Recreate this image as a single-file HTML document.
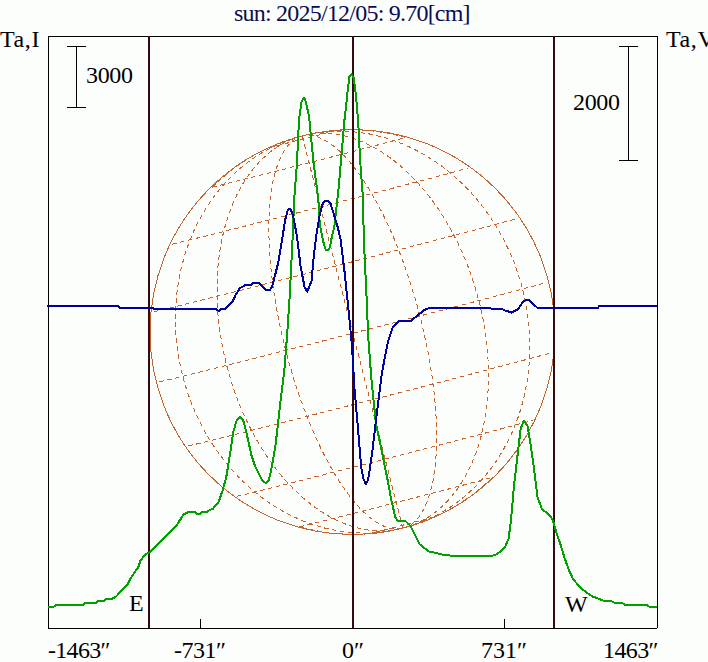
<!DOCTYPE html>
<html><head><meta charset="utf-8"><style>
html,body{margin:0;padding:0;background:#fcfefc;width:708px;height:662px;overflow:hidden}
svg{position:absolute;left:0;top:0}
.t{position:absolute;-webkit-font-smoothing:antialiased;font-family:"Liberation Serif", serif;font-size:24px;line-height:1;white-space:pre;color:#000}
</style></head><body>
<svg width="708" height="662" viewBox="0 0 708 662">
<path d="M368.6,533.8 L368.7,533.8 L368.8,533.8 L368.9,533.7 L369.1,533.7 L369.2,533.7 L369.4,533.6 L369.5,533.6 L369.7,533.5 L369.9,533.5 L370.1,533.4 L370.3,533.4 L370.5,533.3 L370.8,533.3 L371.0,533.2 L371.2,533.2 L371.5,533.1 L371.8,533.0 L372.0,533.0 L372.3,532.9 L372.6,532.8 L372.9,532.8 L373.2,532.7 L373.6,532.6 L373.9,532.5 L374.2,532.4 L374.6,532.4 L374.9,532.3 L375.3,532.2 L375.7,532.1 L376.0,532.0 L376.4,531.9 L376.8,531.8 L377.2,531.7 L377.6,531.6 L378.1,531.5 L378.5,531.4 L378.9,531.3 L379.3,531.2 L379.8,531.1 L380.2,530.9 L380.7,530.8 L381.2,530.7 L381.6,530.6 L382.1,530.5 L382.6,530.4 L383.1,530.2 L383.6,530.1 L384.1,530.0 L384.6,529.8 L385.1,529.7 L385.6,529.6 L386.2,529.5 L386.7,529.3 L387.2,529.2 L387.8,529.0 L388.3,528.9 L388.8,528.8 L389.4,528.6 L389.9,528.5 L390.5,528.4 L391.1,528.2 L391.6,528.1 L392.2,527.9 L392.8,527.8 L393.3,527.6 L393.9,527.5 L394.5,527.3 L395.1,527.2 L395.7,527.0 L396.2,526.9 L396.8,526.7 L397.4,526.6 L398.0,526.4 L398.6,526.3 L399.2,526.1 L399.8,526.0 L400.4,525.8 L401.0,525.7 L401.6,525.5 L402.2,525.4 L402.7,525.2 L403.3,525.1 L403.9,524.9 L404.5,524.8 L405.1,524.6 L405.7,524.5 L406.3,524.3 L406.9,524.2 L407.5,524.0 L408.1,523.9 L408.6,523.7 L409.2,523.6 L409.8,523.4 L410.4,523.3 L411.0,523.1 L411.5,523.0 L412.1,522.8 L412.7,522.7 L413.2,522.5 L413.8,522.4 L414.4,522.2 L414.9,522.1 L415.5,521.9 L416.0,521.8 L416.5,521.7 L417.1,521.5 L417.6,521.4 L418.1,521.2 L418.7,521.1 L419.2,521.0 L419.7,520.8 L420.2,520.7 L420.7,520.6 L421.2,520.4 L421.7,520.3 L422.2,520.2 L422.6,520.1 L423.1,519.9 L423.6,519.8 L424.0,519.7 L424.5,519.6 L424.9,519.5 L425.4,519.4 L425.8,519.2 L426.2,519.1 L426.6,519.0 L427.0,518.9 L427.4,518.8 L427.8,518.7 L428.2,518.6 L428.6,518.5 L429.0,518.4 L429.3,518.3 L429.7,518.2 L430.0,518.1 L430.4,518.0 L430.7,517.9 L431.0,517.9 L431.3,517.8 L431.6,517.7 L431.9,517.6 L432.2,517.5 L432.5,517.5 L432.7,517.4 L433.0,517.3 L433.2,517.3 L433.5,517.2 L433.7,517.1 L433.9,517.1 L434.1,517.0 L434.3,517.0 L434.5,516.9 L434.7,516.9 L434.8,516.8 L435.0,516.8 L435.2,516.7 L435.3,516.7 L435.4,516.6 L435.5,516.6 L435.6,516.6 M299.6,526.8 L299.9,526.7 L300.2,526.6 L300.6,526.5 L301.0,526.4 L301.4,526.3 L301.9,526.2 L302.4,526.1 L302.9,526.0 L303.4,525.9 L304.0,525.7 L304.6,525.6 L305.2,525.4 L305.9,525.3 L306.6,525.1 L307.3,524.9 L308.0,524.8 L308.8,524.6 L309.6,524.4 L310.4,524.2 L311.3,524.0 L312.1,523.8 L313.0,523.5 L314.0,523.3 L314.9,523.1 L315.9,522.8 L316.9,522.6 L317.9,522.3 L318.9,522.1 L320.0,521.8 L321.1,521.6 L322.2,521.3 L323.3,521.0 L324.5,520.7 L325.7,520.4 L326.9,520.1 L328.1,519.8 L329.3,519.5 L330.6,519.2 L331.9,518.9 L333.2,518.5 L334.5,518.2 L335.9,517.9 L337.2,517.5 L338.6,517.2 L340.0,516.8 L341.4,516.5 L342.8,516.1 L344.3,515.7 L345.7,515.4 L347.2,515.0 L348.7,514.6 L350.2,514.2 L351.7,513.9 L353.3,513.5 L354.8,513.1 L356.4,512.7 L357.9,512.3 L359.5,511.9 L361.1,511.5 L362.7,511.1 L364.3,510.7 L366.0,510.2 L367.6,509.8 L369.2,509.4 L370.9,509.0 L372.5,508.6 L374.2,508.1 L375.9,507.7 L377.6,507.3 L379.2,506.9 L380.9,506.4 L382.6,506.0 L384.3,505.6 L386.0,505.1 L387.7,504.7 L389.4,504.2 L391.1,503.8 L392.9,503.4 L394.6,502.9 L396.3,502.5 L398.0,502.1 L399.7,501.6 L401.4,501.2 L403.1,500.7 L404.8,500.3 L406.5,499.9 L408.2,499.4 L409.9,499.0 L411.6,498.5 L413.3,498.1 L415.0,497.7 L416.7,497.2 L418.3,496.8 L420.0,496.4 L421.7,496.0 L423.3,495.5 L424.9,495.1 L426.6,494.7 L428.2,494.3 L429.8,493.8 L431.4,493.4 L433.0,493.0 L434.6,492.6 L436.1,492.2 L437.7,491.8 L439.2,491.4 L440.8,491.0 L442.3,490.6 L443.8,490.2 L445.3,489.8 L446.8,489.4 L448.2,489.1 L449.7,488.7 L451.1,488.3 L452.5,487.9 L453.9,487.6 L455.3,487.2 L456.6,486.9 L458.0,486.5 L459.3,486.2 L460.6,485.8 L461.9,485.5 L463.1,485.1 L464.4,484.8 L465.6,484.5 L466.8,484.2 L467.9,483.9 L469.1,483.6 L470.2,483.3 L471.3,483.0 L472.4,482.7 L473.5,482.4 L474.5,482.1 L475.5,481.9 L476.5,481.6 L477.5,481.3 L478.4,481.1 L479.4,480.8 L480.3,480.6 L481.1,480.4 L482.0,480.1 L482.8,479.9 L483.6,479.7 L484.3,479.5 L485.1,479.3 L485.8,479.1 L486.4,478.9 L487.1,478.7 L487.7,478.6 L488.3,478.4 L488.9,478.3 L489.4,478.1 L489.9,478.0 L490.4,477.8 L490.9,477.7 L491.3,477.6 L491.7,477.5 L492.1,477.4 L492.4,477.3 L492.7,477.2 M236.9,496.2 L237.4,496.1 L238.0,496.0 L238.5,495.9 L239.1,495.7 L239.8,495.6 L240.5,495.4 L241.3,495.2 L242.1,495.1 L242.9,494.9 L243.8,494.7 L244.7,494.4 L245.7,494.2 L246.7,494.0 L247.7,493.7 L248.8,493.4 L249.9,493.2 L251.1,492.9 L252.3,492.6 L253.6,492.3 L254.9,492.0 L256.2,491.6 L257.6,491.3 L259.0,491.0 L260.4,490.6 L261.9,490.2 L263.5,489.9 L265.0,489.5 L266.6,489.1 L268.3,488.7 L269.9,488.2 L271.6,487.8 L273.4,487.4 L275.2,486.9 L277.0,486.5 L278.8,486.0 L280.7,485.6 L282.6,485.1 L284.5,484.6 L286.5,484.1 L288.5,483.6 L290.5,483.1 L292.6,482.6 L294.6,482.1 L296.8,481.5 L298.9,481.0 L301.1,480.4 L303.2,479.9 L305.5,479.3 L307.7,478.8 L310.0,478.2 L312.2,477.6 L314.6,477.0 L316.9,476.5 L319.2,475.9 L321.6,475.3 L324.0,474.6 L326.4,474.0 L328.8,473.4 L331.3,472.8 L333.7,472.2 L336.2,471.5 L338.7,470.9 L341.2,470.3 L343.7,469.6 L346.2,469.0 L348.8,468.3 L351.3,467.7 L353.9,467.0 L356.4,466.4 L359.0,465.7 L361.6,465.1 L364.2,464.4 L366.8,463.7 L369.4,463.1 L372.0,462.4 L374.6,461.7 L377.3,461.1 L379.9,460.4 L382.5,459.7 L385.1,459.0 L387.7,458.4 L390.4,457.7 L393.0,457.0 L395.6,456.3 L398.2,455.7 L400.8,455.0 L403.4,454.3 L406.0,453.7 L408.6,453.0 L411.2,452.3 L413.8,451.7 L416.4,451.0 L418.9,450.3 L421.5,449.7 L424.0,449.0 L426.5,448.4 L429.0,447.7 L431.5,447.1 L434.0,446.4 L436.5,445.8 L438.9,445.2 L441.4,444.5 L443.8,443.9 L446.2,443.3 L448.6,442.6 L451.0,442.0 L453.3,441.4 L455.6,440.8 L457.9,440.2 L460.2,439.6 L462.5,439.0 L464.7,438.5 L466.9,437.9 L469.1,437.3 L471.3,436.7 L473.4,436.2 L475.5,435.6 L477.6,435.1 L479.6,434.5 L481.6,434.0 L483.6,433.5 L485.6,433.0 L487.5,432.5 L489.4,432.0 L491.3,431.5 L493.1,431.0 L494.9,430.5 L496.7,430.1 L498.4,429.6 L500.1,429.1 L501.8,428.7 L503.4,428.3 L505.0,427.8 L506.6,427.4 L508.1,427.0 L509.6,426.6 L511.0,426.2 L512.4,425.9 L513.8,425.5 L515.1,425.1 L516.4,424.8 L517.7,424.5 L518.9,424.1 L520.0,423.8 L521.1,423.5 L522.2,423.2 L523.3,422.9 L524.3,422.7 L525.2,422.4 L526.1,422.2 L527.0,421.9 L527.8,421.7 L528.6,421.5 L529.4,421.3 L530.1,421.1 L530.7,420.9 L531.3,420.7 L531.9,420.5 L532.4,420.4 L532.9,420.2 M188.3,445.9 L188.9,445.8 L189.5,445.6 L190.2,445.5 L191.0,445.3 L191.8,445.1 L192.6,444.9 L193.6,444.7 L194.5,444.5 L195.6,444.2 L196.6,444.0 L197.8,443.7 L198.9,443.4 L200.2,443.1 L201.5,442.8 L202.8,442.5 L204.2,442.1 L205.6,441.8 L207.1,441.4 L208.7,441.0 L210.3,440.7 L211.9,440.3 L213.6,439.8 L215.3,439.4 L217.1,439.0 L218.9,438.5 L220.8,438.1 L222.7,437.6 L224.7,437.1 L226.7,436.6 L228.7,436.1 L230.8,435.6 L233.0,435.0 L235.1,434.5 L237.4,433.9 L239.6,433.4 L241.9,432.8 L244.2,432.2 L246.6,431.6 L249.0,431.0 L251.5,430.4 L254.0,429.8 L256.5,429.2 L259.0,428.5 L261.6,427.9 L264.3,427.2 L266.9,426.5 L269.6,425.9 L272.3,425.2 L275.1,424.5 L277.8,423.8 L280.6,423.1 L283.5,422.3 L286.3,421.6 L289.2,420.9 L292.1,420.2 L295.0,419.4 L298.0,418.7 L301.0,417.9 L304.0,417.2 L307.0,416.4 L310.0,415.6 L313.1,414.8 L316.1,414.1 L319.2,413.3 L322.3,412.5 L325.4,411.7 L328.6,410.9 L331.7,410.1 L334.9,409.3 L338.0,408.5 L341.2,407.7 L344.4,406.8 L347.6,406.0 L350.8,405.2 L354.0,404.4 L357.2,403.6 L360.4,402.7 L363.6,401.9 L366.8,401.1 L370.0,400.3 L373.2,399.4 L376.5,398.6 L379.7,397.8 L382.9,397.0 L386.1,396.1 L389.3,395.3 L392.5,394.5 L395.7,393.7 L398.9,392.9 L402.0,392.0 L405.2,391.2 L408.3,390.4 L411.5,389.6 L414.6,388.8 L417.7,388.0 L420.8,387.2 L423.9,386.4 L427.0,385.6 L430.0,384.8 L433.0,384.0 L436.1,383.2 L439.1,382.5 L442.0,381.7 L445.0,380.9 L447.9,380.2 L450.8,379.4 L453.7,378.7 L456.5,377.9 L459.3,377.2 L462.1,376.5 L464.9,375.7 L467.7,375.0 L470.4,374.3 L473.0,373.6 L475.7,372.9 L478.3,372.2 L480.9,371.6 L483.4,370.9 L486.0,370.2 L488.4,369.6 L490.9,368.9 L493.3,368.3 L495.6,367.7 L498.0,367.1 L500.3,366.5 L502.5,365.9 L504.7,365.3 L506.9,364.7 L509.0,364.1 L511.1,363.6 L513.2,363.1 L515.1,362.5 L517.1,362.0 L519.0,361.5 L520.9,361.0 L522.7,360.5 L524.5,360.0 L526.2,359.6 L527.9,359.1 L529.5,358.7 L531.1,358.3 L532.6,357.9 L534.1,357.5 L535.5,357.1 L536.9,356.7 L538.2,356.3 L539.5,356.0 L540.7,355.7 L541.9,355.3 L543.0,355.0 L544.1,354.7 L545.1,354.4 L546.1,354.2 L547.0,353.9 L547.8,353.7 L548.6,353.5 L549.4,353.2 L550.1,353.0 L550.7,352.9 L551.3,352.7 M159.4,381.8 L160.0,381.7 L160.7,381.5 L161.5,381.4 L162.3,381.2 L163.1,381.0 L164.0,380.8 L165.0,380.5 L166.1,380.3 L167.2,380.0 L168.3,379.8 L169.5,379.5 L170.8,379.2 L172.1,378.9 L173.5,378.5 L174.9,378.2 L176.4,377.8 L177.9,377.4 L179.5,377.1 L181.1,376.7 L182.8,376.2 L184.5,375.8 L186.3,375.4 L188.2,374.9 L190.1,374.5 L192.0,374.0 L194.0,373.5 L196.1,373.0 L198.1,372.5 L200.3,371.9 L202.5,371.4 L204.7,370.8 L207.0,370.3 L209.3,369.7 L211.6,369.1 L214.0,368.5 L216.5,367.9 L219.0,367.3 L221.5,366.6 L224.1,366.0 L226.7,365.3 L229.3,364.7 L232.0,364.0 L234.7,363.3 L237.5,362.6 L240.3,361.9 L243.1,361.2 L245.9,360.5 L248.8,359.8 L251.8,359.0 L254.7,358.3 L257.7,357.5 L260.7,356.8 L263.7,356.0 L266.8,355.2 L269.9,354.4 L273.0,353.6 L276.2,352.8 L279.3,352.0 L282.5,351.2 L285.7,350.4 L289.0,349.6 L292.2,348.8 L295.5,347.9 L298.7,347.1 L302.0,346.3 L305.4,345.4 L308.7,344.6 L312.0,343.7 L315.4,342.9 L318.8,342.0 L322.1,341.1 L325.5,340.3 L328.9,339.4 L332.3,338.5 L335.7,337.7 L339.1,336.8 L342.6,335.9 L346.0,335.0 L349.4,334.1 L352.8,333.3 L356.2,332.4 L359.7,331.5 L363.1,330.6 L366.5,329.8 L369.9,328.9 L373.3,328.0 L376.7,327.1 L380.1,326.2 L383.5,325.4 L386.9,324.5 L390.2,323.6 L393.6,322.8 L396.9,321.9 L400.3,321.0 L403.6,320.2 L406.9,319.3 L410.2,318.5 L413.4,317.6 L416.7,316.8 L419.9,316.0 L423.1,315.1 L426.3,314.3 L429.4,313.5 L432.6,312.7 L435.7,311.9 L438.8,311.1 L441.8,310.3 L444.9,309.5 L447.9,308.7 L450.9,307.9 L453.8,307.1 L456.7,306.4 L459.6,305.6 L462.4,304.9 L465.3,304.2 L468.1,303.4 L470.8,302.7 L473.5,302.0 L476.2,301.3 L478.8,300.6 L481.4,299.9 L484.0,299.2 L486.5,298.6 L489.0,297.9 L491.4,297.3 L493.8,296.7 L496.2,296.0 L498.5,295.4 L500.7,294.8 L503.0,294.2 L505.1,293.7 L507.3,293.1 L509.3,292.5 L511.4,292.0 L513.4,291.5 L515.3,291.0 L517.2,290.5 L519.0,290.0 L520.8,289.5 L522.5,289.0 L524.2,288.6 L525.8,288.1 L527.4,287.7 L528.9,287.3 L530.4,286.9 L531.8,286.5 L533.2,286.1 L534.5,285.8 L535.7,285.4 L536.9,285.1 L538.1,284.8 L539.1,284.5 L540.2,284.2 L541.1,283.9 L542.0,283.7 L542.9,283.4 L543.7,283.2 L544.4,283.0 L545.1,282.8 L545.7,282.6 M153.8,311.7 L154.4,311.6 L155.1,311.5 L155.8,311.3 L156.5,311.1 L157.3,310.9 L158.2,310.7 L159.1,310.5 L160.1,310.3 L161.1,310.1 L162.2,309.8 L163.3,309.5 L164.5,309.2 L165.7,308.9 L167.0,308.6 L168.4,308.3 L169.8,308.0 L171.2,307.6 L172.7,307.3 L174.2,306.9 L175.8,306.5 L177.4,306.1 L179.1,305.7 L180.9,305.3 L182.6,304.8 L184.5,304.4 L186.3,303.9 L188.3,303.4 L190.2,302.9 L192.2,302.4 L194.3,301.9 L196.4,301.4 L198.5,300.9 L200.7,300.3 L202.9,299.8 L205.2,299.2 L207.5,298.6 L209.8,298.1 L212.2,297.5 L214.6,296.9 L217.0,296.2 L219.5,295.6 L222.0,295.0 L224.6,294.3 L227.2,293.7 L229.8,293.0 L232.5,292.4 L235.2,291.7 L237.9,291.0 L240.6,290.3 L243.4,289.6 L246.2,288.9 L249.0,288.2 L251.9,287.5 L254.8,286.7 L257.7,286.0 L260.6,285.3 L263.5,284.5 L266.5,283.7 L269.5,283.0 L272.5,282.2 L275.6,281.5 L278.6,280.7 L281.7,279.9 L284.8,279.1 L287.9,278.3 L291.0,277.5 L294.1,276.7 L297.3,275.9 L300.4,275.1 L303.6,274.3 L306.7,273.5 L309.9,272.7 L313.1,271.9 L316.3,271.0 L319.5,270.2 L322.7,269.4 L325.9,268.6 L329.1,267.8 L332.4,266.9 L335.6,266.1 L338.8,265.3 L342.0,264.5 L345.2,263.6 L348.4,262.8 L351.6,262.0 L354.8,261.2 L358.0,260.3 L361.2,259.5 L364.4,258.7 L367.6,257.9 L370.7,257.1 L373.9,256.2 L377.0,255.4 L380.2,254.6 L383.3,253.8 L386.4,253.0 L389.5,252.2 L392.5,251.4 L395.6,250.6 L398.6,249.9 L401.6,249.1 L404.6,248.3 L407.6,247.5 L410.5,246.8 L413.4,246.0 L416.3,245.2 L419.2,244.5 L422.1,243.8 L424.9,243.0 L427.7,242.3 L430.5,241.6 L433.2,240.9 L435.9,240.1 L438.6,239.4 L441.2,238.8 L443.9,238.1 L446.4,237.4 L449.0,236.7 L451.5,236.1 L454.0,235.4 L456.4,234.8 L458.8,234.1 L461.2,233.5 L463.5,232.9 L465.8,232.3 L468.1,231.7 L470.3,231.1 L472.4,230.5 L474.6,230.0 L476.7,229.4 L478.7,228.9 L480.7,228.4 L482.7,227.8 L484.6,227.3 L486.4,226.8 L488.2,226.4 L490.0,225.9 L491.7,225.4 L493.4,225.0 L495.0,224.5 L496.6,224.1 L498.2,223.7 L499.6,223.3 L501.1,222.9 L502.4,222.5 L503.8,222.2 L505.1,221.8 L506.3,221.5 L507.5,221.2 L508.6,220.9 L509.6,220.6 L510.7,220.3 L511.6,220.0 L512.5,219.8 L513.4,219.5 L514.2,219.3 L514.9,219.1 L515.6,218.9 L516.3,218.7 L516.8,218.5 M172.2,244.1 L172.7,244.0 L173.2,243.9 L173.8,243.7 L174.4,243.6 L175.1,243.4 L175.8,243.3 L176.5,243.1 L177.3,242.9 L178.1,242.7 L179.0,242.5 L179.9,242.3 L180.9,242.1 L181.9,241.8 L183.0,241.6 L184.1,241.3 L185.2,241.0 L186.4,240.7 L187.6,240.4 L188.8,240.1 L190.1,239.8 L191.5,239.5 L192.8,239.2 L194.3,238.8 L195.7,238.5 L197.2,238.1 L198.7,237.7 L200.3,237.3 L201.9,236.9 L203.5,236.5 L205.2,236.1 L206.9,235.7 L208.6,235.2 L210.4,234.8 L212.2,234.4 L214.1,233.9 L215.9,233.4 L217.8,232.9 L219.8,232.5 L221.7,232.0 L223.7,231.5 L225.8,231.0 L227.8,230.4 L229.9,229.9 L232.0,229.4 L234.2,228.8 L236.3,228.3 L238.5,227.8 L240.7,227.2 L243.0,226.6 L245.2,226.1 L247.5,225.5 L249.8,224.9 L252.1,224.3 L254.5,223.7 L256.9,223.1 L259.2,222.5 L261.7,221.9 L264.1,221.3 L266.5,220.7 L269.0,220.0 L271.4,219.4 L273.9,218.8 L276.4,218.1 L279.0,217.5 L281.5,216.8 L284.0,216.2 L286.6,215.6 L289.1,214.9 L291.7,214.2 L294.3,213.6 L296.9,212.9 L299.5,212.3 L302.1,211.6 L304.7,210.9 L307.3,210.3 L309.9,209.6 L312.5,208.9 L315.1,208.2 L317.8,207.6 L320.4,206.9 L323.0,206.2 L325.6,205.6 L328.2,204.9 L330.9,204.2 L333.5,203.5 L336.1,202.9 L338.7,202.2 L341.3,201.5 L343.9,200.9 L346.5,200.2 L349.0,199.5 L351.6,198.9 L354.2,198.2 L356.7,197.5 L359.3,196.9 L361.8,196.2 L364.3,195.6 L366.8,194.9 L369.3,194.3 L371.8,193.6 L374.2,193.0 L376.6,192.4 L379.1,191.7 L381.5,191.1 L383.9,190.5 L386.2,189.9 L388.6,189.3 L390.9,188.7 L393.2,188.1 L395.5,187.5 L397.7,186.9 L400.0,186.3 L402.2,185.7 L404.4,185.2 L406.5,184.6 L408.6,184.0 L410.8,183.5 L412.8,182.9 L414.9,182.4 L416.9,181.9 L418.9,181.4 L420.9,180.8 L422.8,180.3 L424.7,179.8 L426.5,179.3 L428.4,178.9 L430.2,178.4 L432.0,177.9 L433.7,177.4 L435.4,177.0 L437.1,176.6 L438.7,176.1 L440.3,175.7 L441.8,175.3 L443.4,174.9 L444.8,174.5 L446.3,174.1 L447.7,173.7 L449.0,173.4 L450.4,173.0 L451.7,172.7 L452.9,172.3 L454.1,172.0 L455.3,171.7 L456.4,171.4 L457.5,171.1 L458.5,170.8 L459.5,170.5 L460.5,170.3 L461.4,170.0 L462.3,169.8 L463.1,169.5 L463.9,169.3 L464.6,169.1 L465.3,168.9 L466.0,168.7 L466.6,168.6 L467.1,168.4 L467.7,168.2 L468.1,168.1 M212.3,187.1 L212.7,187.0 L213.0,186.9 L213.4,186.8 L213.8,186.7 L214.2,186.6 L214.7,186.5 L215.2,186.4 L215.7,186.3 L216.2,186.2 L216.8,186.0 L217.4,185.9 L218.0,185.7 L218.7,185.6 L219.4,185.4 L220.1,185.2 L220.8,185.1 L221.6,184.9 L222.4,184.7 L223.2,184.5 L224.0,184.3 L224.9,184.1 L225.8,183.8 L226.7,183.6 L227.7,183.4 L228.6,183.1 L229.6,182.9 L230.7,182.6 L231.7,182.4 L232.8,182.1 L233.9,181.8 L235.0,181.6 L236.1,181.3 L237.3,181.0 L238.5,180.7 L239.7,180.4 L240.9,180.1 L242.1,179.8 L243.4,179.5 L244.7,179.1 L246.0,178.8 L247.3,178.5 L248.6,178.1 L250.0,177.8 L251.4,177.5 L252.8,177.1 L254.2,176.7 L255.6,176.4 L257.1,176.0 L258.5,175.7 L260.0,175.3 L261.5,174.9 L263.0,174.5 L264.5,174.1 L266.0,173.8 L267.6,173.4 L269.1,173.0 L270.7,172.6 L272.3,172.2 L273.9,171.8 L275.5,171.4 L277.1,170.9 L278.7,170.5 L280.4,170.1 L282.0,169.7 L283.7,169.3 L285.3,168.8 L287.0,168.4 L288.7,168.0 L290.3,167.6 L292.0,167.1 L293.7,166.7 L295.4,166.3 L297.1,165.8 L298.8,165.4 L300.5,165.0 L302.2,164.5 L303.9,164.1 L305.6,163.7 L307.3,163.2 L309.1,162.8 L310.8,162.3 L312.5,161.9 L314.2,161.5 L315.9,161.0 L317.6,160.6 L319.3,160.1 L321.0,159.7 L322.7,159.3 L324.4,158.8 L326.1,158.4 L327.8,158.0 L329.4,157.5 L331.1,157.1 L332.8,156.7 L334.4,156.2 L336.1,155.8 L337.7,155.4 L339.3,155.0 L341.0,154.5 L342.6,154.1 L344.2,153.7 L345.8,153.3 L347.4,152.9 L348.9,152.5 L350.5,152.1 L352.0,151.7 L353.6,151.3 L355.1,150.9 L356.6,150.5 L358.1,150.1 L359.5,149.7 L361.0,149.3 L362.4,149.0 L363.9,148.6 L365.3,148.2 L366.7,147.9 L368.0,147.5 L369.4,147.1 L370.7,146.8 L372.1,146.4 L373.3,146.1 L374.6,145.8 L375.9,145.4 L377.1,145.1 L378.3,144.8 L379.5,144.5 L380.7,144.2 L381.9,143.9 L383.0,143.6 L384.1,143.3 L385.2,143.0 L386.3,142.7 L387.3,142.4 L388.3,142.1 L389.3,141.9 L390.3,141.6 L391.2,141.4 L392.1,141.1 L393.0,140.9 L393.9,140.7 L394.7,140.4 L395.6,140.2 L396.3,140.0 L397.1,139.8 L397.8,139.6 L398.5,139.4 L399.2,139.2 L399.9,139.0 L400.5,138.9 L401.1,138.7 L401.7,138.5 L402.2,138.4 L402.7,138.2 L403.2,138.1 L403.7,138.0 L404.1,137.9 L404.5,137.8 L404.8,137.6 L405.2,137.5 L405.5,137.5 M269.4,147.5 L269.5,147.5 L269.6,147.4 L269.7,147.4 L269.9,147.4 L270.0,147.3 L270.2,147.3 L270.4,147.3 L270.5,147.2 L270.7,147.2 L270.9,147.1 L271.1,147.1 L271.3,147.0 L271.6,147.0 L271.8,146.9 L272.1,146.9 L272.3,146.8 L272.6,146.7 L272.9,146.7 L273.1,146.6 L273.4,146.5 L273.7,146.5 L274.1,146.4 L274.4,146.3 L274.7,146.2 L275.0,146.1 L275.4,146.0 L275.7,146.0 L276.1,145.9 L276.5,145.8 L276.9,145.7 L277.2,145.6 L277.6,145.5 L278.0,145.4 L278.4,145.3 L278.9,145.2 L279.3,145.1 L279.7,145.0 L280.2,144.9 L280.6,144.7 L281.1,144.6 L281.5,144.5 L282.0,144.4 L282.5,144.3 L282.9,144.2 L283.4,144.0 L283.9,143.9 L284.4,143.8 L284.9,143.7 L285.4,143.5 L285.9,143.4 L286.4,143.3 L287.0,143.1 L287.5,143.0 L288.0,142.9 L288.6,142.7 L289.1,142.6 L289.7,142.5 L290.2,142.3 L290.8,142.2 L291.3,142.0 L291.9,141.9 L292.4,141.8 L293.0,141.6 L293.6,141.5 L294.1,141.3 L294.7,141.2 L295.3,141.0 L295.9,140.9 L296.5,140.7 L297.0,140.6 L297.6,140.4 L298.2,140.3 L298.8,140.1 L299.4,140.0 L300.0,139.8 L300.6,139.7 L301.2,139.5 L301.8,139.4 L302.4,139.2 L303.0,139.1 L303.6,138.9 L304.2,138.8 L304.7,138.6 L305.3,138.5 L305.9,138.3 L306.5,138.2 L307.1,138.0 L307.7,137.8 L308.3,137.7 L308.9,137.5 L309.5,137.4 L310.0,137.2 L310.6,137.1 L311.2,136.9 L311.8,136.8 L312.3,136.6 L312.9,136.5 L313.5,136.4 L314.0,136.2 L314.6,136.1 L315.2,135.9 L315.7,135.8 L316.3,135.6 L316.8,135.5 L317.4,135.3 L317.9,135.2 L318.4,135.1 L318.9,134.9 L319.5,134.8 L320.0,134.7 L320.5,134.5 L321.0,134.4 L321.5,134.3 L322.0,134.1 L322.5,134.0 L323.0,133.9 L323.4,133.8 L323.9,133.6 L324.4,133.5 L324.8,133.4 L325.3,133.3 L325.7,133.2 L326.2,133.0 L326.6,132.9 L327.0,132.8 L327.4,132.7 L327.9,132.6 L328.3,132.5 L328.6,132.4 L329.0,132.3 L329.4,132.2 L329.8,132.1 L330.1,132.0 L330.5,131.9 L330.8,131.8 L331.2,131.7 L331.5,131.6 L331.8,131.5 L332.1,131.5 L332.4,131.4 L332.7,131.3 L333.0,131.2 L333.3,131.2 L333.5,131.1 L333.8,131.0 L334.0,130.9 L334.3,130.9 L334.5,130.8 L334.7,130.8 L334.9,130.7 L335.1,130.6 L335.3,130.6 L335.5,130.5 L335.7,130.5 L335.8,130.5 L336.0,130.4 L336.1,130.4 L336.2,130.3 L336.4,130.3 L336.5,130.3 M212.3,187.1 L214.8,184.6 L217.4,182.2 L220.0,179.9 L222.6,177.6 L225.3,175.3 L228.0,173.1 L230.7,170.9 L233.5,168.8 L236.3,166.7 L239.1,164.7 L242.0,162.8 L244.9,160.9 L247.9,159.0 L250.9,157.2 L253.9,155.4 L256.9,153.7 L260.0,152.1 L263.1,150.5 L266.2,149.0 L269.4,147.5 L272.6,146.1 L275.8,144.7 L279.0,143.4 L282.2,142.1 L285.5,141.0 L288.8,139.8 L292.1,138.7 L295.4,137.7 L298.8,136.8 L302.1,135.9 M392.7,530.5 L389.3,531.1 L385.8,531.7 L382.4,532.3 L379.0,532.7 L375.5,533.2 L372.0,533.5 L368.6,533.8 L365.1,534.0 L361.6,534.2 L358.1,534.3 L354.6,534.4 L351.2,534.3 L347.7,534.3 L344.2,534.1 L340.7,533.9 L337.2,533.7 L333.8,533.3 L330.3,533.0 L326.9,532.5 L323.4,532.0 L320.0,531.4 L316.5,530.8 L313.1,530.1 L309.7,529.4 L306.3,528.6 L302.9,527.7 L299.6,526.8 M399.9,528.9 L396.9,529.6 L393.9,530.2 L390.9,530.7 L387.9,531.2 L384.8,531.7 L381.8,532.1 L378.8,532.4 L375.7,532.6 L372.6,532.8 L369.6,533.0 L366.5,533.0 L363.4,533.1 L360.3,533.0 L357.2,532.9 L354.1,532.7 L351.0,532.5 L348.0,532.2 L344.9,531.9 L341.8,531.4 L338.7,531.0 L335.6,530.4 L332.5,529.8 L329.5,529.2 L326.4,528.5 L323.4,527.7 L320.3,526.8 L317.3,525.9 L314.3,525.0 L311.3,524.0 L308.3,522.9 L305.3,521.8 L302.3,520.6 L299.4,519.3 L296.4,518.0 L293.5,516.7 L290.6,515.3 L287.7,513.8 L284.8,512.3 L282.0,510.7 L279.2,509.1 L276.4,507.4 L273.6,505.6 L270.8,503.8 L268.1,502.0 L265.4,500.1 L262.7,498.1 L260.1,496.1 L257.5,494.1 L254.9,492.0 L252.3,489.8 L249.8,487.6 L247.3,485.4 L244.8,483.1 L242.4,480.7 L240.0,478.4 L237.6,475.9 L235.3,473.5 L233.0,470.9 L230.7,468.4 L228.5,465.8 L226.3,463.1 L224.2,460.5 L222.1,457.7 L220.0,455.0 L218.0,452.2 L216.0,449.4 L214.0,446.5 L212.1,443.6 L210.3,440.7 L208.4,437.7 L206.7,434.7 L204.9,431.7 L203.3,428.6 L201.6,425.5 L200.0,422.4 L198.5,419.2 L197.0,416.1 L195.5,412.9 L194.1,409.6 L192.8,406.4 L191.5,403.1 L190.2,399.8 L189.0,396.5 L187.8,393.2 L186.7,389.8 L185.7,386.5 L184.7,383.1 L183.7,379.7 L182.8,376.2 L181.9,372.8 L181.1,369.4 L180.4,365.9 L179.7,362.5 L179.1,359.0 L178.5,355.5 L177.9,352.0 L177.4,348.5 L177.0,345.0 L176.6,341.5 L176.3,338.0 L176.0,334.5 L175.8,331.0 L175.7,327.5 L175.6,324.0 L175.5,320.5 L175.5,317.0 L175.5,313.5 L175.7,310.0 L175.8,306.5 L176.0,303.0 L176.3,299.6 L176.6,296.1 L177.0,292.6 L177.4,289.2 L177.9,285.8 L178.4,282.4 L179.0,279.0 L179.7,275.6 L180.4,272.3 L181.1,268.9 L181.9,265.6 L182.8,262.3 L183.7,259.0 L184.6,255.7 L185.6,252.5 L186.7,249.3 L187.8,246.1 L188.9,243.0 L190.1,239.8 L191.4,236.7 L192.7,233.6 L194.0,230.6 L195.4,227.6 L196.9,224.6 L198.4,221.6 L199.9,218.7 L201.5,215.9 L203.2,213.0 L204.8,210.2 L206.6,207.4 L208.3,204.7 L210.2,202.0 L212.0,199.3 L213.9,196.7 L215.9,194.1 L217.8,191.6 L219.9,189.1 L221.9,186.7 L224.0,184.3 L226.2,181.9 L228.4,179.6 L230.6,177.3 L232.8,175.1 L235.1,172.9 L237.5,170.8 L239.8,168.7 L242.2,166.7 L244.7,164.7 L247.1,162.8 L249.6,161.0 L252.2,159.1 L254.7,157.4 L257.3,155.7 L259.9,154.0 L262.6,152.4 L265.3,150.8 L268.0,149.4 L270.7,147.9 L273.4,146.5 L276.2,145.2 L279.0,143.9 L281.8,142.7 L284.7,141.6 L287.5,140.5 L290.4,139.4 L293.3,138.5 L296.2,137.5 L299.2,136.7 L302.1,135.9 M400.7,528.7 L398.4,529.2 L396.2,529.6 L394.0,530.0 L391.7,530.3 L389.4,530.5 L387.1,530.7 L384.9,530.9 L382.6,530.9 L380.2,530.9 L377.9,530.9 L375.6,530.8 L373.3,530.6 L370.9,530.4 L368.6,530.1 L366.2,529.7 L363.9,529.3 L361.5,528.8 L359.2,528.3 L356.8,527.7 L354.4,527.1 L352.1,526.3 L349.7,525.6 L347.3,524.7 L345.0,523.8 L342.6,522.9 L340.2,521.9 L337.9,520.8 L335.5,519.7 L333.2,518.5 L330.9,517.3 L328.5,516.0 L326.2,514.7 L323.9,513.2 L321.6,511.8 L319.3,510.3 L317.0,508.7 L314.7,507.1 L312.5,505.4 L310.2,503.7 L308.0,501.9 L305.7,500.1 L303.5,498.2 L301.3,496.2 L299.1,494.3 L297.0,492.2 L294.8,490.1 L292.7,488.0 L290.6,485.8 L288.5,483.6 L286.4,481.3 L284.4,479.0 L282.3,476.7 L280.3,474.3 L278.3,471.8 L276.3,469.3 L274.4,466.8 L272.5,464.2 L270.6,461.6 L268.7,458.9 L266.9,456.2 L265.0,453.5 L263.3,450.7 L261.5,447.9 L259.7,445.1 L258.0,442.2 L256.4,439.3 L254.7,436.4 L253.1,433.4 L251.5,430.4 L249.9,427.4 L248.4,424.3 L246.9,421.2 L245.4,418.1 L244.0,415.0 L242.6,411.8 L241.2,408.6 L239.9,405.4 L238.6,402.2 L237.3,398.9 L236.1,395.6 L234.9,392.3 L233.7,389.0 L232.6,385.7 L231.5,382.3 L230.5,378.9 L229.5,375.6 L228.5,372.2 L227.6,368.8 L226.7,365.3 L225.8,361.9 L225.0,358.5 L224.2,355.0 L223.5,351.6 L222.8,348.1 L222.1,344.7 L221.5,341.2 L220.9,337.7 L220.3,334.2 L219.8,330.8 L219.4,327.3 L219.0,323.8 L218.6,320.4 L218.2,316.9 L217.9,313.4 L217.7,310.0 L217.4,306.5 L217.3,303.1 L217.1,299.7 L217.0,296.2 L217.0,292.8 L217.0,289.4 L217.0,286.1 L217.1,282.7 L217.2,279.3 L217.3,276.0 L217.5,272.7 L217.8,269.4 L218.0,266.1 L218.4,262.8 L218.7,259.6 L219.1,256.3 L219.5,253.1 L220.0,250.0 L220.5,246.8 L221.1,243.7 L221.7,240.6 L222.3,237.5 L223.0,234.5 L223.7,231.5 L224.5,228.5 L225.3,225.5 L226.1,222.6 L227.0,219.7 L227.9,216.9 L228.9,214.1 L229.9,211.3 L230.9,208.6 L231.9,205.8 L233.0,203.2 L234.2,200.6 L235.4,198.0 L236.6,195.4 L237.8,192.9 L239.1,190.5 L240.4,188.0 L241.7,185.7 L243.1,183.3 L244.5,181.1 L246.0,178.8 L247.5,176.6 L249.0,174.5 L250.5,172.4 L252.1,170.3 L253.7,168.3 L255.3,166.4 L257.0,164.5 L258.7,162.6 L260.4,160.8 L262.1,159.1 L263.9,157.4 L265.7,155.8 L267.6,154.2 L269.4,152.7 L271.3,151.2 L273.2,149.8 L275.1,148.4 L277.1,147.1 L279.1,145.8 L281.1,144.6 L283.1,143.5 L285.1,142.4 L287.2,141.4 L289.3,140.4 L291.4,139.5 L293.5,138.7 L295.6,137.9 L297.8,137.1 L300.0,136.5 L302.1,135.9 M401.7,528.4 L400.5,528.7 L399.3,528.8 L398.1,528.9 L396.8,529.0 L395.6,529.0 L394.3,528.9 L393.1,528.8 L391.8,528.6 L390.5,528.4 L389.2,528.0 L387.9,527.7 L386.5,527.2 L385.2,526.8 L383.9,526.2 L382.5,525.6 L381.1,524.9 L379.8,524.2 L378.4,523.4 L377.0,522.6 L375.6,521.7 L374.2,520.8 L372.8,519.7 L371.3,518.7 L369.9,517.5 L368.5,516.4 L367.1,515.1 L365.6,513.8 L364.2,512.5 L362.7,511.1 L361.3,509.6 L359.8,508.1 L358.4,506.5 L356.9,504.9 L355.4,503.2 L354.0,501.5 L352.5,499.7 L351.1,497.9 L349.6,496.0 L348.2,494.1 L346.7,492.1 L345.2,490.1 L343.8,488.0 L342.3,485.9 L340.9,483.7 L339.4,481.5 L338.0,479.2 L336.6,476.9 L335.1,474.6 L333.7,472.2 L332.3,469.7 L330.9,467.3 L329.5,464.7 L328.1,462.2 L326.7,459.6 L325.3,456.9 L323.9,454.3 L322.6,451.6 L321.2,448.8 L319.8,446.0 L318.5,443.2 L317.2,440.3 L315.9,437.5 L314.6,434.5 L313.3,431.6 L312.0,428.6 L310.7,425.6 L309.4,422.5 L308.2,419.5 L307.0,416.4 L305.8,413.3 L304.6,410.1 L303.4,407.0 L302.2,403.8 L301.0,400.6 L299.9,397.3 L298.8,394.1 L297.7,390.8 L296.6,387.5 L295.5,384.2 L294.4,380.9 L293.4,377.5 L292.4,374.2 L291.4,370.8 L290.4,367.4 L289.4,364.1 L288.4,360.7 L287.5,357.2 L286.6,353.8 L285.7,350.4 L284.9,347.0 L284.0,343.6 L283.2,340.1 L282.4,336.7 L281.6,333.2 L280.8,329.8 L280.1,326.4 L279.4,322.9 L278.7,319.5 L278.0,316.1 L277.3,312.7 L276.7,309.2 L276.1,305.8 L275.5,302.4 L275.0,299.0 L274.4,295.6 L273.9,292.3 L273.4,288.9 L273.0,285.6 L272.5,282.2 L272.1,278.9 L271.7,275.6 L271.4,272.3 L271.0,269.0 L270.7,265.8 L270.4,262.6 L270.1,259.4 L269.9,256.2 L269.7,253.0 L269.5,249.9 L269.3,246.8 L269.2,243.7 L269.1,240.6 L269.0,237.6 L268.9,234.6 L268.9,231.6 L268.9,228.7 L268.9,225.8 L268.9,222.9 L269.0,220.0 L269.1,217.2 L269.2,214.4 L269.3,211.7 L269.5,209.0 L269.7,206.3 L269.9,203.7 L270.1,201.1 L270.4,198.6 L270.7,196.1 L271.0,193.6 L271.3,191.2 L271.7,188.8 L272.1,186.4 L272.5,184.1 L272.9,181.9 L273.4,179.7 L273.9,177.5 L274.4,175.4 L274.9,173.4 L275.5,171.4 L276.1,169.4 L276.7,167.5 L277.3,165.6 L278.0,163.8 L278.6,162.0 L279.3,160.3 L280.1,158.7 L280.8,157.0 L281.6,155.5 L282.3,154.0 L283.1,152.5 L284.0,151.2 L284.8,149.8 L285.7,148.5 L286.6,147.3 L287.5,146.1 L288.4,145.0 L289.4,144.0 L290.3,143.0 L291.3,142.0 L292.3,141.2 L293.3,140.3 L294.4,139.6 L295.4,138.9 L296.5,138.2 L297.6,137.6 L298.7,137.1 L299.8,136.6 L301.0,136.2 L302.1,135.9 M402.9,528.1 L402.8,528.1 L402.8,527.9 L402.8,527.7 L402.7,527.5 L402.6,527.2 L402.5,526.8 L402.4,526.4 L402.3,525.9 L402.2,525.4 L402.0,524.8 L401.8,524.1 L401.6,523.4 L401.4,522.6 L401.2,521.8 L401.0,520.9 L400.8,519.9 L400.5,518.9 L400.2,517.9 L399.9,516.7 L399.6,515.6 L399.3,514.3 L399.0,513.0 L398.6,511.7 L398.3,510.3 L397.9,508.8 L397.5,507.3 L397.1,505.8 L396.7,504.2 L396.3,502.5 L395.8,500.8 L395.4,499.0 L394.9,497.2 L394.4,495.3 L393.9,493.4 L393.4,491.4 L392.9,489.4 L392.4,487.3 L391.8,485.2 L391.3,483.1 L390.7,480.9 L390.1,478.6 L389.6,476.3 L389.0,474.0 L388.3,471.6 L387.7,469.2 L387.1,466.7 L386.4,464.2 L385.8,461.6 L385.1,459.0 L384.4,456.4 L383.8,453.8 L383.1,451.0 L382.4,448.3 L381.7,445.5 L380.9,442.7 L380.2,439.9 L379.5,437.0 L378.7,434.1 L378.0,431.2 L377.2,428.2 L376.4,425.2 L375.7,422.2 L374.9,419.1 L374.1,416.0 L373.3,412.9 L372.5,409.8 L371.7,406.6 L370.9,403.5 L370.0,400.3 L369.2,397.1 L368.4,393.8 L367.5,390.6 L366.7,387.3 L365.8,384.0 L365.0,380.7 L364.1,377.4 L363.3,374.0 L362.4,370.7 L361.6,367.3 L360.7,363.9 L359.8,360.6 L359.0,357.2 L358.1,353.8 L357.2,350.4 L356.3,346.9 L355.5,343.5 L354.6,340.1 L353.7,336.7 L352.8,333.3 L351.9,329.8 L351.1,326.4 L350.2,323.0 L349.3,319.6 L348.4,316.2 L347.6,312.8 L346.7,309.4 L345.8,306.0 L344.9,302.6 L344.1,299.2 L343.2,295.8 L342.3,292.5 L341.5,289.1 L340.6,285.8 L339.8,282.5 L338.9,279.2 L338.1,275.9 L337.2,272.6 L336.4,269.3 L335.6,266.1 L334.8,262.9 L333.9,259.7 L333.1,256.5 L332.3,253.4 L331.5,250.3 L330.7,247.2 L329.9,244.1 L329.1,241.0 L328.4,238.0 L327.6,235.0 L326.8,232.1 L326.1,229.1 L325.3,226.2 L324.6,223.4 L323.9,220.5 L323.2,217.7 L322.5,215.0 L321.8,212.2 L321.1,209.6 L320.4,206.9 L319.7,204.3 L319.0,201.7 L318.4,199.2 L317.8,196.7 L317.1,194.2 L316.5,191.8 L315.9,189.4 L315.3,187.1 L314.7,184.8 L314.1,182.6 L313.6,180.4 L313.0,178.2 L312.5,176.1 L312.0,174.1 L311.4,172.1 L310.9,170.1 L310.4,168.2 L310.0,166.3 L309.5,164.5 L309.1,162.8 L308.6,161.1 L308.2,159.4 L307.8,157.8 L307.4,156.3 L307.0,154.8 L306.6,153.3 L306.3,152.0 L305.9,150.6 L305.6,149.3 L305.3,148.1 L305.0,147.0 L304.7,145.9 L304.4,144.8 L304.2,143.8 L303.9,142.9 L303.7,142.0 L303.5,141.2 L303.3,140.4 L303.1,139.7 L303.0,139.1 L302.8,138.5 L302.7,138.0 L302.6,137.5 L302.5,137.1 L302.4,136.7 L302.3,136.4 L302.2,136.2 L302.2,136.0 L302.2,135.9 L302.1,135.9 M404.0,527.8 L405.2,527.5 L406.3,527.0 L407.4,526.5 L408.5,526.0 L409.6,525.4 L410.7,524.7 L411.7,524.0 L412.8,523.2 L413.8,522.4 L414.8,521.5 L415.8,520.5 L416.7,519.5 L417.7,518.4 L418.6,517.3 L419.5,516.1 L420.4,514.9 L421.2,513.6 L422.1,512.2 L422.9,510.8 L423.7,509.4 L424.4,507.8 L425.2,506.3 L425.9,504.7 L426.6,503.0 L427.3,501.3 L428.0,499.5 L428.6,497.6 L429.2,495.8 L429.8,493.8 L430.4,491.9 L430.9,489.8 L431.4,487.8 L431.9,485.6 L432.4,483.5 L432.9,481.3 L433.3,479.0 L433.7,476.7 L434.0,474.3 L434.4,471.9 L434.7,469.5 L435.0,467.0 L435.3,464.5 L435.5,461.9 L435.8,459.4 L436.0,456.7 L436.1,454.0 L436.3,451.3 L436.4,448.6 L436.5,445.8 L436.6,443.0 L436.6,440.1 L436.6,437.2 L436.6,434.3 L436.6,431.4 L436.5,428.4 L436.4,425.4 L436.3,422.3 L436.2,419.3 L436.0,416.2 L435.9,413.1 L435.6,409.9 L435.4,406.8 L435.1,403.6 L434.9,400.4 L434.5,397.1 L434.2,393.9 L433.8,390.6 L433.5,387.3 L433.0,384.0 L432.6,380.7 L432.2,377.4 L431.7,374.0 L431.2,370.6 L430.6,367.3 L430.1,363.9 L429.5,360.5 L428.9,357.1 L428.3,353.7 L427.6,350.3 L426.9,346.8 L426.2,343.4 L425.5,340.0 L424.8,336.6 L424.0,333.1 L423.2,329.7 L422.4,326.3 L421.6,322.8 L420.8,319.4 L419.9,316.0 L419.0,312.5 L418.1,309.1 L417.2,305.7 L416.2,302.3 L415.2,298.9 L414.3,295.6 L413.2,292.2 L412.2,288.8 L411.2,285.5 L410.1,282.2 L409.0,278.8 L407.9,275.5 L406.8,272.3 L405.7,269.0 L404.6,265.7 L403.4,262.5 L402.2,259.3 L401.0,256.1 L399.8,253.0 L398.6,249.9 L397.4,246.7 L396.1,243.7 L394.9,240.6 L393.6,237.6 L392.3,234.6 L391.0,231.6 L389.7,228.7 L388.4,225.8 L387.0,222.9 L385.7,220.0 L384.3,217.2 L383.0,214.5 L381.6,211.7 L380.2,209.0 L378.8,206.4 L377.4,203.7 L376.0,201.2 L374.6,198.6 L373.2,196.1 L371.8,193.6 L370.3,191.2 L368.9,188.8 L367.4,186.5 L366.0,184.2 L364.5,182.0 L363.1,179.8 L361.6,177.6 L360.2,175.5 L358.7,173.5 L357.2,171.4 L355.8,169.5 L354.3,167.6 L352.8,165.7 L351.4,163.9 L349.9,162.1 L348.4,160.4 L347.0,158.8 L345.5,157.2 L344.0,155.6 L342.6,154.1 L341.1,152.7 L339.7,151.3 L338.2,150.0 L336.8,148.7 L335.3,147.5 L333.9,146.3 L332.5,145.2 L331.1,144.1 L329.6,143.1 L328.2,142.2 L326.8,141.3 L325.4,140.5 L324.0,139.7 L322.7,139.0 L321.3,138.4 L319.9,137.8 L318.6,137.3 L317.3,136.8 L315.9,136.4 L314.6,136.1 L313.3,135.8 L312.0,135.5 L310.7,135.4 L309.5,135.3 L308.2,135.2 L307.0,135.2 L305.7,135.3 L304.5,135.4 L303.3,135.6 L302.1,135.9 M405.1,527.6 L407.2,526.9 L409.4,526.2 L411.5,525.5 L413.7,524.7 L415.8,523.8 L417.9,522.8 L419.9,521.9 L422.0,520.8 L424.0,519.7 L426.0,518.5 L428.0,517.3 L430.0,516.0 L431.9,514.7 L433.8,513.3 L435.7,511.9 L437.6,510.4 L439.4,508.8 L441.2,507.2 L443.0,505.6 L444.8,503.9 L446.5,502.1 L448.2,500.3 L449.9,498.4 L451.5,496.5 L453.1,494.5 L454.7,492.5 L456.3,490.4 L457.8,488.3 L459.3,486.2 L460.7,483.9 L462.1,481.7 L463.5,479.4 L464.9,477.0 L466.2,474.7 L467.5,472.2 L468.7,469.7 L470.0,467.2 L471.1,464.7 L472.3,462.1 L473.4,459.4 L474.5,456.7 L475.5,454.0 L476.5,451.3 L477.4,448.5 L478.4,445.7 L479.2,442.8 L480.1,439.9 L480.9,437.0 L481.6,434.0 L482.4,431.0 L483.0,428.0 L483.7,425.0 L484.3,421.9 L484.9,418.8 L485.4,415.6 L485.9,412.5 L486.3,409.3 L486.7,406.1 L487.1,402.9 L487.4,399.6 L487.7,396.4 L487.9,393.1 L488.1,389.8 L488.3,386.4 L488.4,383.1 L488.5,379.7 L488.5,376.4 L488.5,373.0 L488.4,369.6 L488.3,366.2 L488.2,362.7 L488.0,359.3 L487.8,355.9 L487.6,352.4 L487.3,349.0 L486.9,345.5 L486.5,342.1 L486.1,338.6 L485.6,335.1 L485.1,331.7 L484.6,328.2 L484.0,324.7 L483.4,321.3 L482.7,317.8 L482.0,314.4 L481.3,310.9 L480.5,307.5 L479.7,304.0 L478.8,300.6 L477.9,297.2 L477.0,293.8 L476.0,290.4 L475.0,287.0 L474.0,283.6 L472.9,280.3 L471.7,276.9 L470.6,273.6 L469.4,270.3 L468.2,267.0 L466.9,263.8 L465.6,260.5 L464.3,257.3 L462.9,254.1 L461.5,250.9 L460.0,247.8 L458.6,244.6 L457.1,241.5 L455.5,238.5 L454.0,235.4 L452.4,232.4 L450.8,229.4 L449.1,226.5 L447.4,223.5 L445.7,220.7 L444.0,217.8 L442.2,215.0 L440.4,212.2 L438.6,209.4 L436.7,206.7 L434.8,204.1 L432.9,201.4 L431.0,198.8 L429.1,196.3 L427.1,193.8 L425.1,191.3 L423.1,188.9 L421.0,186.5 L419.0,184.2 L416.9,181.9 L414.8,179.6 L412.7,177.4 L410.5,175.3 L408.4,173.2 L406.2,171.1 L404.0,169.1 L401.8,167.1 L399.6,165.2 L397.4,163.4 L395.1,161.6 L392.9,159.8 L390.6,158.1 L388.3,156.5 L386.0,154.9 L383.7,153.3 L381.4,151.8 L379.1,150.4 L376.7,149.0 L374.4,147.7 L372.1,146.4 L369.7,145.2 L367.3,144.1 L365.0,143.0 L362.6,142.0 L360.2,141.0 L357.9,140.1 L355.5,139.2 L353.1,138.4 L350.8,137.6 L348.4,137.0 L346.0,136.3 L343.6,135.8 L341.3,135.3 L338.9,134.8 L336.6,134.4 L334.2,134.1 L331.8,133.8 L329.5,133.6 L327.2,133.5 L324.8,133.4 L322.5,133.4 L320.2,133.4 L317.9,133.5 L315.6,133.7 L313.3,133.9 L311.1,134.2 L308.8,134.5 L306.6,134.9 L304.4,135.3 L302.1,135.9 M405.8,527.4 L408.8,526.5 L411.7,525.6 L414.6,524.7 L417.5,523.6 L420.4,522.6 L423.2,521.4 L426.0,520.2 L428.8,519.0 L431.6,517.7 L434.4,516.3 L437.1,514.9 L439.8,513.4 L442.5,511.9 L445.1,510.3 L447.8,508.7 L450.4,507.0 L452.9,505.3 L455.5,503.5 L458.0,501.6 L460.4,499.7 L462.9,497.8 L465.3,495.7 L467.7,493.7 L470.0,491.6 L472.3,489.4 L474.6,487.2 L476.8,485.0 L479.0,482.7 L481.1,480.4 L483.2,478.0 L485.3,475.6 L487.3,473.1 L489.3,470.6 L491.3,468.0 L493.2,465.4 L495.0,462.8 L496.9,460.1 L498.6,457.4 L500.4,454.6 L502.1,451.8 L503.7,449.0 L505.3,446.1 L506.8,443.2 L508.3,440.3 L509.8,437.3 L511.2,434.3 L512.5,431.3 L513.9,428.2 L515.1,425.1 L516.3,422.0 L517.5,418.9 L518.6,415.7 L519.7,412.5 L520.7,409.3 L521.6,406.0 L522.5,402.8 L523.4,399.5 L524.2,396.2 L524.9,392.8 L525.6,389.5 L526.3,386.1 L526.9,382.7 L527.4,379.3 L527.9,375.9 L528.3,372.5 L528.7,369.1 L529.0,365.6 L529.3,362.2 L529.5,358.7 L529.7,355.2 L529.8,351.7 L529.8,348.2 L529.8,344.7 L529.8,341.2 L529.7,337.7 L529.5,334.2 L529.3,330.7 L529.0,327.2 L528.7,323.7 L528.3,320.2 L527.9,316.7 L527.4,313.2 L526.9,309.8 L526.3,306.3 L525.6,302.8 L524.9,299.3 L524.2,295.9 L523.4,292.5 L522.5,289.0 L521.6,285.6 L520.7,282.2 L519.7,278.8 L518.6,275.4 L517.5,272.1 L516.3,268.8 L515.1,265.4 L513.9,262.1 L512.6,258.9 L511.2,255.6 L509.8,252.4 L508.3,249.2 L506.8,246.0 L505.3,242.8 L503.7,239.7 L502.1,236.6 L500.4,233.6 L498.6,230.5 L496.9,227.5 L495.0,224.5 L493.2,221.6 L491.3,218.7 L489.3,215.8 L487.3,213.0 L485.3,210.2 L483.2,207.4 L481.1,204.7 L479.0,202.0 L476.8,199.3 L474.6,196.7 L472.3,194.1 L470.0,191.6 L467.7,189.1 L465.3,186.7 L462.9,184.3 L460.5,181.9 L458.0,179.6 L455.5,177.4 L452.9,175.2 L450.4,173.0 L447.8,170.9 L445.2,168.8 L442.5,166.8 L439.8,164.8 L437.1,162.9 L434.4,161.1 L431.6,159.2 L428.8,157.5 L426.0,155.8 L423.2,154.1 L420.4,152.5 L417.5,151.0 L414.6,149.5 L411.7,148.1 L408.8,146.7 L405.8,145.4 L402.9,144.1 L399.9,142.9 L396.9,141.7 L393.9,140.7 L390.9,139.6 L387.9,138.6 L384.8,137.7 L381.8,136.9 L378.7,136.1 L375.6,135.3 L372.6,134.7 L369.5,134.0 L366.4,133.5 L363.3,133.0 L360.2,132.6 L357.1,132.2 L354.1,131.9 L351.0,131.6 L347.9,131.4 L344.8,131.3 L341.7,131.2 L338.6,131.2 L335.5,131.3 L332.4,131.4 L329.4,131.6 L326.3,131.8 L323.2,132.1 L320.2,132.4 L317.2,132.9 L314.1,133.3 L311.1,133.9 L308.1,134.5 L305.1,135.1 L302.1,135.9 M405.5,137.5 L402.1,136.5 L398.7,135.6 L395.3,134.8 L391.9,134.1 L388.5,133.4 L385.1,132.7 L381.6,132.2 L378.2,131.7 L374.7,131.2 L371.3,130.8 L367.8,130.5 L364.3,130.2 L360.8,130.0 L357.3,129.9 L353.9,129.8 L350.4,129.7 L346.9,129.8 L343.4,129.9 L339.9,130.0 L336.5,130.3 L333.0,130.6 L329.5,130.9 L326.1,131.3 L322.6,131.8 L319.2,132.3 L315.7,132.9 L312.3,133.6 L308.9,134.3 L305.5,135.0 L302.1,135.9 M412.9,525.3 L416.2,524.2 L419.5,523.1 L422.8,521.9 L426.0,520.7 L429.3,519.4 L432.5,518.0 L435.6,516.6 L438.8,515.1 L441.9,513.6 L445.0,512.0 L448.1,510.4 L451.2,508.7 L454.2,506.9 L457.1,505.1 L460.1,503.3 L463.0,501.4 L465.9,499.4 L468.8,497.4 L471.6,495.4 L474.4,493.3 L477.1,491.1 L479.8,488.9 L482.5,486.6 L485.1,484.3 L487.7,482.0 L490.2,479.6 L492.7,477.2" fill="none" stroke="#c4642c" stroke-width="1" stroke-dasharray="4.5,3.5" shape-rendering="crispEdges"/>
<circle cx="352.5" cy="332.0" r="202.5" fill="none" stroke="#c06430" stroke-width="1" shape-rendering="crispEdges"/>
<g stroke="#000" stroke-width="1" shape-rendering="crispEdges" fill="none">
<path d="M48.5,36.5 H657.5 M48.5,36 V628.5 M657.5,36 V628 M48,628.5 H657"/>
<path d="M67,46.5 H86 M76.5,46 V108 M67,107.5 H86"/>
<path d="M619,46.5 H638 M628.5,46 V161 M619,160.5 H638"/>
<path d="M200.5,619 V628 M504.5,619 V628"/>
</g>
<g stroke="#360a0e" stroke-width="2" shape-rendering="crispEdges">
<path d="M149,36 V628 M353,36 V628 M554,36 V628"/>
</g>
<polyline points="48.0,607.0 54.0,606.5 56.0,605.0 83.0,605.0 85.0,603.0 96.0,603.0 98.0,601.0 104.0,601.0 106.0,599.0 112.0,599.0 116.0,596.5 127.7,584.4 131.0,577.6 138.4,567.0 140.3,561.0 145.4,554.2 148.0,553.2 152.2,550.0 160.7,541.5 164.0,538.0 176.0,526.3 183.6,514.4 188.6,511.9 194.6,511.9 197.1,513.9 199.7,513.9 202.2,511.9 207.3,511.9 209.8,509.8 212.4,509.3 218.3,502.5 218.9,501.5 222.5,490.7 226.2,477.4 229.8,455.6 233.4,431.4 236.6,420.6 240.0,416.9 243.1,419.8 246.7,433.8 251.5,455.6 255.2,466.5 262.4,481.0 266.0,482.9 269.0,479.8 272.1,465.3 275.7,443.5 278.4,420.0 280.3,403.0 284.3,370.4 287.1,335.1 289.8,294.3 292.5,240.0 294.3,197.9 297.0,162.5 298.8,123.3 299.7,114.2 300.6,108.1 301.5,102.1 304.0,97.5 306.0,102.1 307.2,108.1 308.5,114.2 309.4,120.2 313.5,162.5 318.3,198.7 319.7,223.9 323.1,240.8 325.0,248.0 326.2,250.0 328.6,250.0 330.0,247.0 331.0,240.8 334.4,226.2 338.8,186.6 342.5,143.0 344.4,120.4 346.2,105.3 347.7,90.2 349.5,76.6 351.5,74.3 353.8,78.0 355.3,90.2 356.8,105.3 358.3,123.4 360.1,160.0 363.0,198.7 363.8,240.0 366.2,288.3 368.2,336.6 371.1,375.3 373.5,400.0 376.0,423.4 382.4,454.3 387.6,480.0 391.4,500.5 395.3,517.2 397.8,521.1 405.6,521.1 410.7,526.2 419.7,544.2 429.0,551.6 435.4,552.8 445.7,555.4 471.4,556.0 490.6,556.2 497.1,554.1 504.8,547.7 508.6,538.7 511.2,518.2 513.8,487.3 517.1,459.1 520.7,428.3 524.0,420.5 527.4,425.7 530.5,443.7 533.8,466.8 537.6,497.6 542.0,509.2 547.2,513.0 551.0,516.9 553.0,520.8 556.5,533.0 560.8,545.2 564.3,557.3 568.7,569.5 573.0,579.0 578.2,585.1 582.5,589.4 586.0,592.0 592.1,596.4 597.3,598.1 603.4,600.7 611.2,601.1 614.7,602.8 622.5,603.3 625.1,604.7 646.8,605.1 649.4,606.8 657.0,606.8" fill="none" stroke="#00a000" stroke-width="2" stroke-linejoin="round" shape-rendering="crispEdges"/>
<polyline points="47.0,306.0 118.5,306.0 120.2,308.0 152.4,308.0 154.1,309.0 215.9,309.0 218.5,311.0 221.4,309.0 225.2,309.0 232.4,301.8 235.8,294.6 240.1,287.8 242.2,286.9 245.2,285.1 251.4,284.9 253.4,282.8 259.2,282.8 262.3,286.3 266.4,290.0 269.8,290.0 272.1,286.3 273.9,279.5 275.9,272.0 277.6,265.2 279.0,258.4 282.4,237.5 285.3,219.4 287.5,210.9 289.8,208.6 292.0,212.0 294.3,221.6 297.1,237.5 300.7,267.2 304.7,287.6 307.4,291.6 311.5,280.8 313.5,258.9 316.3,235.2 319.7,214.9 323.1,202.4 325.4,200.7 328.2,201.0 330.5,203.6 334.4,216.0 337.8,227.3 340.6,239.7 344.5,271.4 349.3,317.3 352.2,348.7 354.2,385.0 358.0,428.6 361.2,467.0 363.5,479.0 365.8,484.0 367.5,481.0 369.0,475.0 372.5,450.0 376.5,415.7 381.9,372.9 388.0,341.4 392.8,327.0 398.8,320.9 410.9,320.9 418.2,314.9 423.7,310.5 428.2,308.3 448.6,308.3 450.8,307.6 465.5,307.6 467.8,308.5 472.3,307.6 488.1,307.6 490.4,308.5 501.7,308.7 505.1,310.5 511.9,312.6 514.1,311.0 517.5,309.9 522.0,303.1 525.4,300.1 528.8,300.1 537.9,308.3 597.6,308.2 599.3,306.0 657.0,306.0" fill="none" stroke="#0000a0" stroke-width="2" stroke-linejoin="round" shape-rendering="crispEdges"/>
</svg>
<div class="t" id="title" style="left:234px;top:0.7px;color:#0c0c50;letter-spacing:-0.78px">sun: 2025/12/05: 9.70[cm]</div>
<div class="t" id="tai" style="left:0px;top:27px;letter-spacing:0.6px">Ta,I</div>
<div class="t" id="tav" style="left:666px;top:27px;letter-spacing:0.6px">Ta,V</div>
<div class="t" id="s3000" style="left:86px;top:63px;letter-spacing:-0.35px">3000</div>
<div class="t" id="s2000" style="left:573px;top:90px;letter-spacing:-0.35px">2000</div>
<div class="t" id="lE" style="left:129px;top:591px">E</div>
<div class="t" id="lW" style="left:565px;top:591.6px">W</div>
<div class="t" id="x1" style="left:48px;top:637.6px;letter-spacing:-0.7px">-1463&#x2033;</div>
<div class="t" id="x2" style="left:174px;top:637.6px;letter-spacing:-0.5px">-731&#x2033;</div>
<div class="t" id="x3" style="left:342px;top:637.6px">0&#x2033;</div>
<div class="t" id="x4" style="left:481px;top:637.6px">731&#x2033;</div>
<div class="t" id="x5" style="left:603px;top:637.6px;letter-spacing:-0.6px">1463&#x2033;</div>
</body></html>
